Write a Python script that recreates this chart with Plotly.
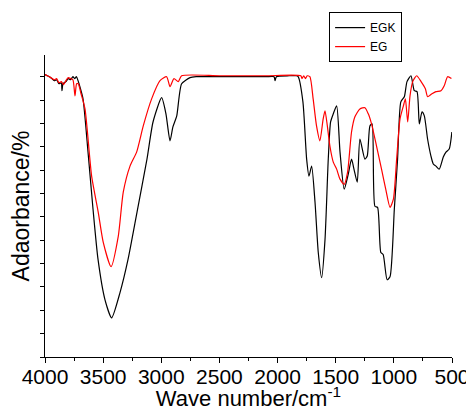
import plotly.graph_objects as go

# EGK spectrum (black)
egk_wn = [4000, 3980, 3950, 3920, 3900, 3880, 3860, 3854, 3845, 3820, 3800, 3780, 3760, 3745, 3730,
          3716, 3700, 3673, 3630, 3587, 3544, 3484, 3427, 3355, 3286, 3209, 3123, 3071, 2997, 2960,
          2925, 2900, 2867, 2825, 2753, 2700, 2500, 2100, 2030, 2022, 2010, 1900, 1840, 1823, 1782,
          1750, 1730, 1707, 1678, 1650, 1621, 1592, 1564, 1544, 1521, 1492, 1463, 1427, 1392, 1364,
          1343, 1315, 1292, 1249, 1229, 1206, 1187, 1163, 1140, 1112, 1092, 1058, 1033, 996, 968,
          940, 910, 887, 853, 824, 801, 781, 758, 738, 710, 681, 661, 638, 610, 575, 552, 524, 501]
egk_val = [121.0, 120.5, 119.7, 118.4, 118.8, 117.1, 117.5, 114.1, 117.1, 118.0, 119.3, 118.8, 120.1, 119.3, 120.1,
           118.4, 115.8, 110.6, 87.8, 63.3, 41.8, 24.5, 16.8, 27.6, 41.8, 62.0, 84.8, 100.7, 111.1, 104.2,
           92.6, 98.6, 103.3, 117.1, 119.7, 120.1, 120.1, 120.1, 120.1, 118.4, 120.1, 120.5, 120.5, 120.1, 109.3,
           84.8, 77.5, 81.8, 66.3, 44.8, 34.0, 50.4, 84.8, 100.7, 104.2, 107.6, 87.8, 71.9, 78.4, 84.8,
           80.5, 74.9, 93.4, 84.8, 86.1, 99.0, 99.9, 64.6, 64.1, 44.8, 43.9, 33.1, 34.4, 63.3, 84.8,
           109.3, 111.5, 118.0, 120.5, 114.1, 113.7, 99.9, 105.0, 103.3, 93.4, 86.1, 82.7, 81.8, 80.5, 85.7, 87.8, 89.1, 96.4]

# EG spectrum (red)
eg_wn = [4000, 3980, 3950, 3920, 3900, 3880, 3860, 3840, 3820, 3800, 3780, 3760, 3742, 3728, 3714,
         3690, 3656, 3599, 3542, 3499, 3432, 3370, 3327, 3269, 3212, 3155, 3083, 3011, 2954, 2925,
         2891, 2854, 2825, 2500, 2100, 1800, 1790, 1775, 1760, 1745, 1722, 1694, 1665, 1636, 1608,
         1592, 1572, 1550, 1521, 1492, 1463, 1427, 1398, 1364, 1335, 1292, 1249, 1220, 1192, 1149,
         1106, 1070, 1033, 1004, 976, 947, 918, 901, 881, 861, 838, 804, 766, 729, 710,
         672, 638, 595, 567, 538, 505]
eg_val = [121.0, 120.5, 119.7, 118.8, 119.3, 117.5, 118.0, 116.7, 118.4, 119.7, 119.3, 118.8, 111.9, 117.1, 117.1,
          112.8, 106.3, 77.5, 62.0, 49.1, 38.7, 51.7, 70.6, 81.8, 87.8, 99.0, 110.6, 118.4, 120.1, 115.8,
          119.3, 118.0, 120.5, 120.5, 120.5, 120.5, 119.3, 120.5, 119.3, 120.5, 120.1, 110.6, 99.0, 92.6, 102.0,
          105.5, 99.0, 90.4, 83.5, 80.5, 76.2, 74.0, 79.2, 96.4, 102.9, 106.3, 106.8, 104.2, 99.9, 90.4,
          80.5, 71.9, 64.1, 67.6, 84.8, 102.0, 107.6, 110.6, 100.7, 111.9, 118.0, 120.5, 118.0, 114.9, 111.5,
          112.8, 113.7, 114.1, 116.2, 120.1, 119.3]

x_ticks = [4000, 3500, 3000, 2500, 2000, 1500, 1000, 500]

fig = go.Figure()
fig.add_trace(go.Scatter(x=egk_wn, y=egk_val, mode="lines", name="EGK",
                         line=dict(color="black", width=1.2, shape="spline", smoothing=0.6)))
fig.add_trace(go.Scatter(x=eg_wn, y=eg_val, mode="lines", name="EG",
                         line=dict(color="red", width=1.2, shape="spline", smoothing=0.6)))

font_family = "Liberation Sans, Arial, sans-serif"
fig.update_layout(
    width=466, height=403,
    margin=dict(l=37, r=22, t=47, b=54, autoexpand=False),
    paper_bgcolor="white", plot_bgcolor="white",
    font=dict(family=font_family, color="black"),
    showlegend=True,
    legend=dict(x=0.698, y=1.142, xanchor="left", yanchor="top",
                bordercolor="black", borderwidth=1, bgcolor="white",
                font=dict(size=12, family=font_family), tracegroupgap=0,
                itemwidth=30),
    xaxis=dict(range=[4000, 500], tickmode="array", tickvals=x_ticks,
               ticktext=[str(v) for v in x_ticks], automargin=False,
               showline=True, linecolor="black", linewidth=1,
               ticks="outside", ticklen=5, tickwidth=1, tickcolor="black",
               minor=dict(dtick=250, ticks="outside", ticklen=3, tickcolor="black", tickwidth=1),
               showgrid=False, zeroline=False, ticklabelstandoff=-4,
               tickfont=dict(size=21, family=font_family),
               title=dict(text="Wave number/cm<sup>-1</sup>", font=dict(size=22, family=font_family), standoff=12)),
    yaxis=dict(range=[0, 129.4], dtick=10, tick0=0, automargin=False,
               showline=True, linecolor="black", linewidth=1,
               ticks="outside", ticklen=4, tickwidth=1, tickcolor="black",
               showticklabels=False, showgrid=False, zeroline=False,
               title=dict(text="Adaorbance/%", font=dict(size=23, family=font_family), standoff=8)),
)

fig.write_html("out.html")
